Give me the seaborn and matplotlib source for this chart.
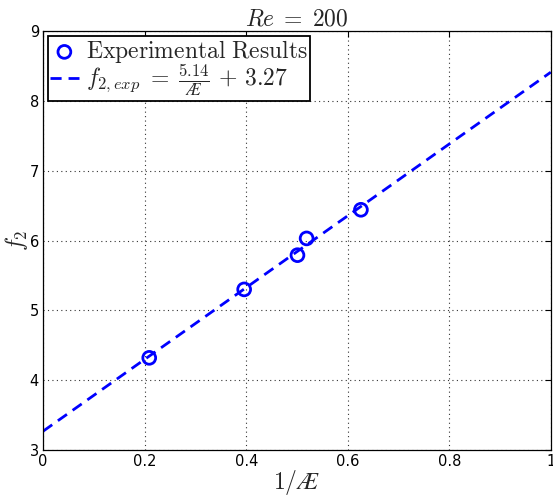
import numpy as np
import pandas as pd
import matplotlib
matplotlib.use("Agg")
import matplotlib.pyplot as plt
import seaborn as sns

sns.set_style("white")
matplotlib.rcParams['mathtext.fontset'] = 'cm'
matplotlib.rcParams['font.family'] = ['DejaVu Sans']

# experimental points
inv_ar = [0.209, 0.396, 0.501, 0.519, 0.626]
f2 = [4.32, 5.30, 5.79, 6.03, 6.44]

# fitted line from the legend
slope = 5.14
intercept = 3.27
x_fit = np.array([0.0, 1.0])

df_exp = pd.DataFrame({"inv_ar": inv_ar, "f2": f2})
df_fit = pd.DataFrame({"inv_ar": x_fit, "f2": slope * x_fit + intercept})

fig, ax = plt.subplots(figsize=(5.53, 4.96), dpi=100)
fig.subplots_adjust(left=0.078, right=0.996, top=0.9375, bottom=0.0927)

sns.scatterplot(data=df_exp, x="inv_ar", y="f2", ax=ax, marker='o', s=85,
                facecolors='none', edgecolor='#0000ff', linewidth=2,
                label="$\\mathrm{Experimental\\ Results}$", zorder=3)
sns.lineplot(data=df_fit, x="inv_ar", y="f2", ax=ax, color='#0000ff', linewidth=2,
             label="$f_{2,exp}\\;=\\;\\frac{5.14}{Æ}\\,+\\,3.27$", zorder=2)
ax.lines[-1].set_linestyle((0, (4, 2.5)))

ax.set_xlim(0, 1)
ax.set_ylim(3, 9)
ax.set_xticks([0, 0.2, 0.4, 0.6, 0.8, 1])
ax.set_xticklabels(["0", "0.2", "0.4", "0.6", "0.8", "1"])
ax.set_yticks(range(3, 10))
ax.tick_params(direction='in', top=True, right=True, length=4, width=0.8,
               labelsize=10.5, colors='black', pad=3)
ax.grid(True, color='#333333', linestyle=(0, (1, 3)), linewidth=0.8)
for sp in ax.spines.values():
    sp.set_color('black')
    sp.set_linewidth(0.9)

ax.set_title("$Re\\;=\\;200$", fontsize=17, pad=4)
ax.set_xlabel("$1/Æ$", fontsize=17, labelpad=-1)
ax.set_ylabel("$f_2$", fontsize=17, labelpad=0)

leg = ax.legend(loc='upper left', fontsize=17, frameon=True, fancybox=False,
                edgecolor='black', framealpha=1, handlelength=1.2, handletextpad=0.3,
                borderpad=0.1, labelspacing=-0.1, borderaxespad=0.2)
leg.get_frame().set_linewidth(1.3)

plt.savefig("out.png", dpi=100)
